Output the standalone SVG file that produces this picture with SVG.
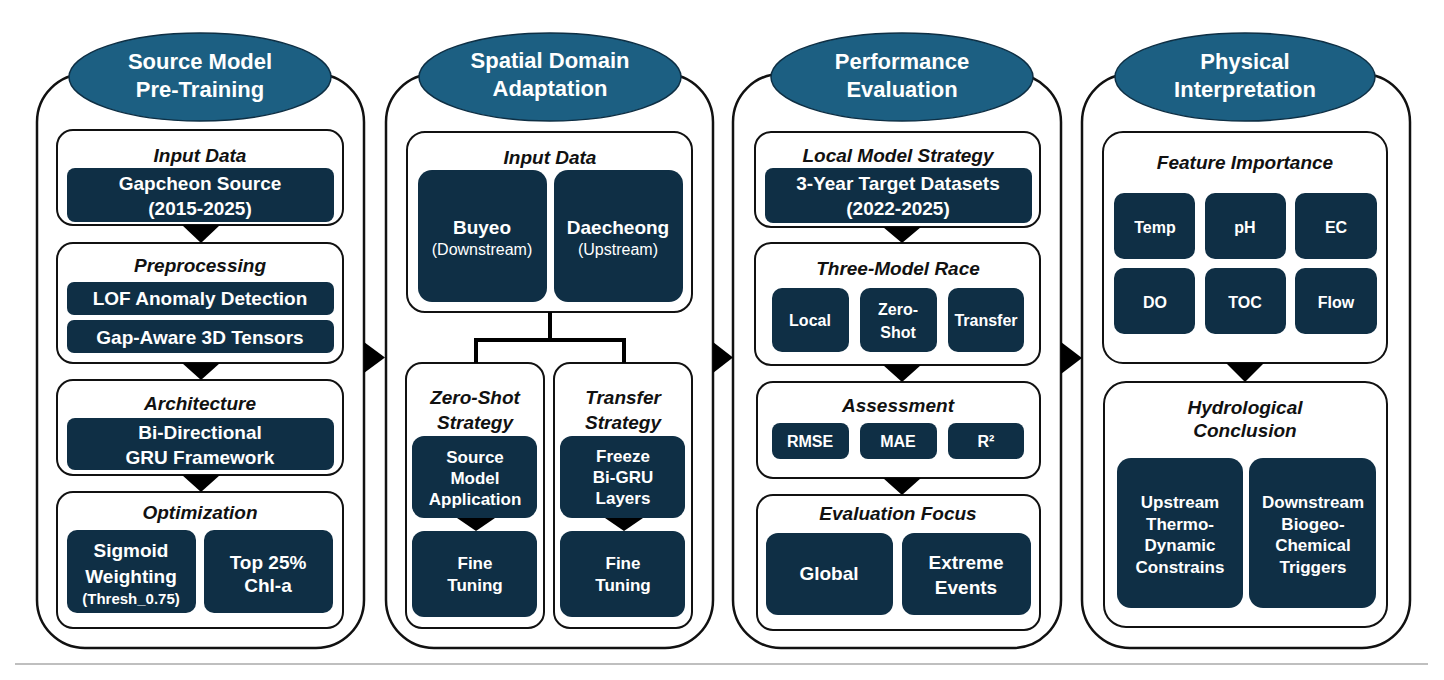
<svg xmlns="http://www.w3.org/2000/svg" width="1444" height="680" viewBox="0 0 1444 680">
<style>
text{font-family:"Liberation Sans",Arial,Helvetica,sans-serif;text-anchor:middle;font-weight:bold}
.panel{fill:#fff;stroke:#111;stroke-width:2.5}
.head{fill:#1c5f82;stroke:#0e2f44;stroke-width:1.5}
.ht{fill:#fff;font-size:22px}
.sub{fill:#fff;stroke:#111;stroke-width:2}
.st{fill:#111;font-size:19px;font-style:italic}
.dk{fill:#0f2f45}
.dt{fill:#fff;font-size:19px}
.dm{fill:#fff;font-size:17px}
.ds{fill:#fff;font-size:16px}
.dr{fill:#fff;font-size:16px;font-weight:normal}
.arr{fill:#000}
.conn{fill:none;stroke:#000;stroke-width:4}
</style>

<g id="panel1">
<rect class="panel" x="37" y="74" width="327" height="574" rx="48"/>
<ellipse class="head" cx="200" cy="77" rx="131" ry="44"/>
<text class="ht" x="200" y="69">Source Model</text>
<text class="ht" x="200" y="97">Pre-Training</text>
</g>
<g id="p1-input">
<rect class="sub" x="57" y="130" width="286" height="95" rx="16"/>
<text class="st" x="200" y="162">Input Data</text>
<rect class="dk" x="67" y="168" width="267" height="54" rx="8"/>
<text class="dt" x="200" y="190">Gapcheon Source</text>
<text class="dt" x="200" y="215">(2015-2025)</text>
</g>
<g id="p1-pre">
<rect class="sub" x="57" y="243" width="286" height="120" rx="16"/>
<text class="st" x="200" y="272">Preprocessing</text>
<rect class="dk" x="67" y="282" width="267" height="33" rx="7"/>
<text class="dt" x="200" y="305">LOF Anomaly Detection</text>
<rect class="dk" x="67" y="320" width="267" height="33" rx="7"/>
<text class="dt" x="200" y="344">Gap-Aware 3D Tensors</text>
</g>
<g id="p1-arch">
<rect class="sub" x="57" y="380" width="286" height="95" rx="16"/>
<text class="st" x="200" y="410">Architecture</text>
<rect class="dk" x="67" y="418" width="267" height="52" rx="8"/>
<text class="dt" x="200" y="439">Bi-Directional</text>
<text class="dt" x="200" y="464">GRU Framework</text>
</g>
<g id="p1-opt">
<rect class="sub" x="57" y="492" width="286" height="136" rx="16"/>
<text class="st" x="200" y="519">Optimization</text>
<rect class="dk" x="67" y="530" width="129" height="83" rx="10"/>
<text class="dt" x="131" y="557">Sigmoid</text>
<text class="dt" x="131" y="583">Weighting</text>
<text class="ds" x="131" y="604" style="font-size:15px">(Thresh_0.75)</text>
<rect class="dk" x="204" y="530" width="129" height="83" rx="10"/>
<text class="dt" x="268" y="569">Top 25%</text>
<text class="dt" x="268" y="592">Chl-a</text>
</g>

<g id="panel2">
<rect class="panel" x="386" y="74" width="327" height="574" rx="48"/>
<ellipse class="head" cx="550" cy="77" rx="131" ry="44"/>
<text class="ht" x="550" y="68">Spatial Domain</text>
<text class="ht" x="550" y="96">Adaptation</text>
</g>
<g id="p2-input">
<rect class="sub" x="407" y="132" width="285" height="180" rx="18"/>
<text class="st" x="550" y="164">Input Data</text>
<rect class="dk" x="418" y="170" width="129" height="132" rx="14"/>
<text class="dt" x="482" y="234">Buyeo</text>
<text class="dr" x="482" y="255">(Downstream)</text>
<rect class="dk" x="554" y="170" width="129" height="132" rx="14"/>
<text class="dt" x="618" y="234">Daecheong</text>
<text class="dr" x="618" y="255">(Upstream)</text>
</g>
<g id="p2-zero">
<rect class="sub" x="406" y="363" width="138" height="265" rx="16"/>
<text class="st" x="475" y="404">Zero-Shot</text>
<text class="st" x="475" y="429">Strategy</text>
<rect class="dk" x="412" y="436" width="125" height="82" rx="12"/>
<text class="dm" x="475" y="463">Source</text>
<text class="dm" x="475" y="484">Model</text>
<text class="dm" x="475" y="505">Application</text>
<rect class="dk" x="412" y="531" width="125" height="86" rx="12"/>
<text class="dm" x="475" y="569">Fine</text>
<text class="dm" x="475" y="591">Tuning</text>
</g>
<g id="p2-transfer">
<rect class="sub" x="554" y="363" width="138" height="265" rx="16"/>
<text class="st" x="623" y="404">Transfer</text>
<text class="st" x="623" y="429">Strategy</text>
<rect class="dk" x="560" y="436" width="125" height="82" rx="12"/>
<text class="dm" x="623" y="462">Freeze</text>
<text class="dm" x="623" y="483">Bi-GRU</text>
<text class="dm" x="623" y="504">Layers</text>
<rect class="dk" x="560" y="531" width="125" height="86" rx="12"/>
<text class="dm" x="623" y="569">Fine</text>
<text class="dm" x="623" y="591">Tuning</text>
</g>

<g id="panel3">
<rect class="panel" x="733" y="74" width="328" height="574" rx="48"/>
<ellipse class="head" cx="902" cy="77" rx="131" ry="44"/>
<text class="ht" x="902" y="69">Performance</text>
<text class="ht" x="902" y="97">Evaluation</text>
</g>
<g id="p3-local">
<rect class="sub" x="755" y="132" width="285" height="95" rx="16"/>
<text class="st" x="898" y="162">Local Model Strategy</text>
<rect class="dk" x="765" y="168" width="267" height="55" rx="8"/>
<text class="dt" x="898" y="190">3-Year Target Datasets</text>
<text class="dt" x="898" y="215">(2022-2025)</text>
</g>
<g id="p3-race">
<rect class="sub" x="755" y="243" width="285" height="122" rx="16"/>
<text class="st" x="898" y="275">Three-Model Race</text>
<rect class="dk" x="772" y="288" width="77" height="64" rx="10"/>
<text class="ds" x="810" y="326">Local</text>
<rect class="dk" x="860" y="288" width="77" height="64" rx="10"/>
<text class="ds" x="898" y="315">Zero-</text>
<text class="ds" x="898" y="338">Shot</text>
<rect class="dk" x="948" y="288" width="76" height="64" rx="10"/>
<text class="ds" x="986" y="326">Transfer</text>
</g>
<g id="p3-assess">
<rect class="sub" x="757" y="382" width="283" height="96" rx="16"/>
<text class="st" x="898" y="412">Assessment</text>
<rect class="dk" x="772" y="423" width="77" height="36" rx="8"/>
<text class="ds" x="810" y="447">RMSE</text>
<rect class="dk" x="860" y="423" width="77" height="36" rx="8"/>
<text class="ds" x="898" y="447">MAE</text>
<rect class="dk" x="948" y="423" width="76" height="36" rx="8"/>
<text class="ds" x="986" y="447">R²</text>
</g>
<g id="p3-focus">
<rect class="sub" x="757" y="495" width="283" height="135" rx="16"/>
<text class="st" x="898" y="520">Evaluation Focus</text>
<rect class="dk" x="766" y="533" width="127" height="82" rx="12"/>
<text class="dt" x="829" y="580">Global</text>
<rect class="dk" x="902" y="533" width="129" height="82" rx="12"/>
<text class="dt" x="966" y="569">Extreme</text>
<text class="dt" x="966" y="594">Events</text>
</g>

<g id="panel4">
<rect class="panel" x="1082" y="74" width="328" height="574" rx="48"/>
<ellipse class="head" cx="1245" cy="77" rx="130" ry="44"/>
<text class="ht" x="1245" y="69">Physical</text>
<text class="ht" x="1245" y="97">Interpretation</text>
</g>
<g id="p4-feature">
<rect class="sub" x="1103" y="132" width="284" height="231" rx="20"/>
<text class="st" x="1245" y="169">Feature Importance</text>
<rect class="dk" x="1114" y="193" width="81" height="66" rx="10"/>
<text class="ds" x="1155" y="233">Temp</text>
<rect class="dk" x="1205" y="193" width="81" height="66" rx="10"/>
<text class="ds" x="1245" y="233">pH</text>
<rect class="dk" x="1295" y="193" width="82" height="66" rx="10"/>
<text class="ds" x="1336" y="233">EC</text>
<rect class="dk" x="1114" y="268" width="81" height="66" rx="10"/>
<text class="ds" x="1155" y="308">DO</text>
<rect class="dk" x="1205" y="268" width="81" height="66" rx="10"/>
<text class="ds" x="1245" y="308">TOC</text>
<rect class="dk" x="1295" y="268" width="82" height="66" rx="10"/>
<text class="ds" x="1336" y="308">Flow</text>
</g>
<g id="p4-hydro">
<rect class="sub" x="1104" y="382" width="283" height="245" rx="22"/>
<text class="st" x="1245" y="414">Hydrological</text>
<text class="st" x="1245" y="437">Conclusion</text>
<rect class="dk" x="1117" y="458" width="126" height="150" rx="14"/>
<text class="dm" x="1180" y="508">Upstream</text>
<text class="dm" x="1180" y="530">Thermo-</text>
<text class="dm" x="1180" y="551">Dynamic</text>
<text class="dm" x="1180" y="573">Constrains</text>
<rect class="dk" x="1249" y="458" width="127" height="150" rx="14"/>
<text class="dm" x="1313" y="508">Downstream</text>
<text class="dm" x="1313" y="530">Biogeo-</text>
<text class="dm" x="1313" y="551">Chemical</text>
<text class="dm" x="1313" y="573">Triggers</text>
</g>

<g id="connectors">
<path class="conn" d="M550,312 V340 M476,363 V340 H624 V363"/>
<polygon class="arr" points="364,342 385,357.5 364,373"/>
<polygon class="arr" points="713,342 733,357.5 713,373"/>
<polygon class="arr" points="1061,342 1082,358 1061,374"/>
<polygon class="arr" points="182,225 220,225 201,243"/>
<polygon class="arr" points="182,363 220,363 201,380"/>
<polygon class="arr" points="182,475 220,475 201,492"/>
<polygon class="arr" points="457,518 495,518 476,531"/>
<polygon class="arr" points="605,518 643,518 624,531"/>
<polygon class="arr" points="883,227 921,227 902,243"/>
<polygon class="arr" points="883,365 921,365 902,382"/>
<polygon class="arr" points="883,478 921,478 902,495"/>
<polygon class="arr" points="1226,363 1264,363 1245,382"/>
</g>

<line x1="15" y1="664" x2="1428" y2="664" stroke="#aaa" stroke-width="1.5"/>
</svg>
